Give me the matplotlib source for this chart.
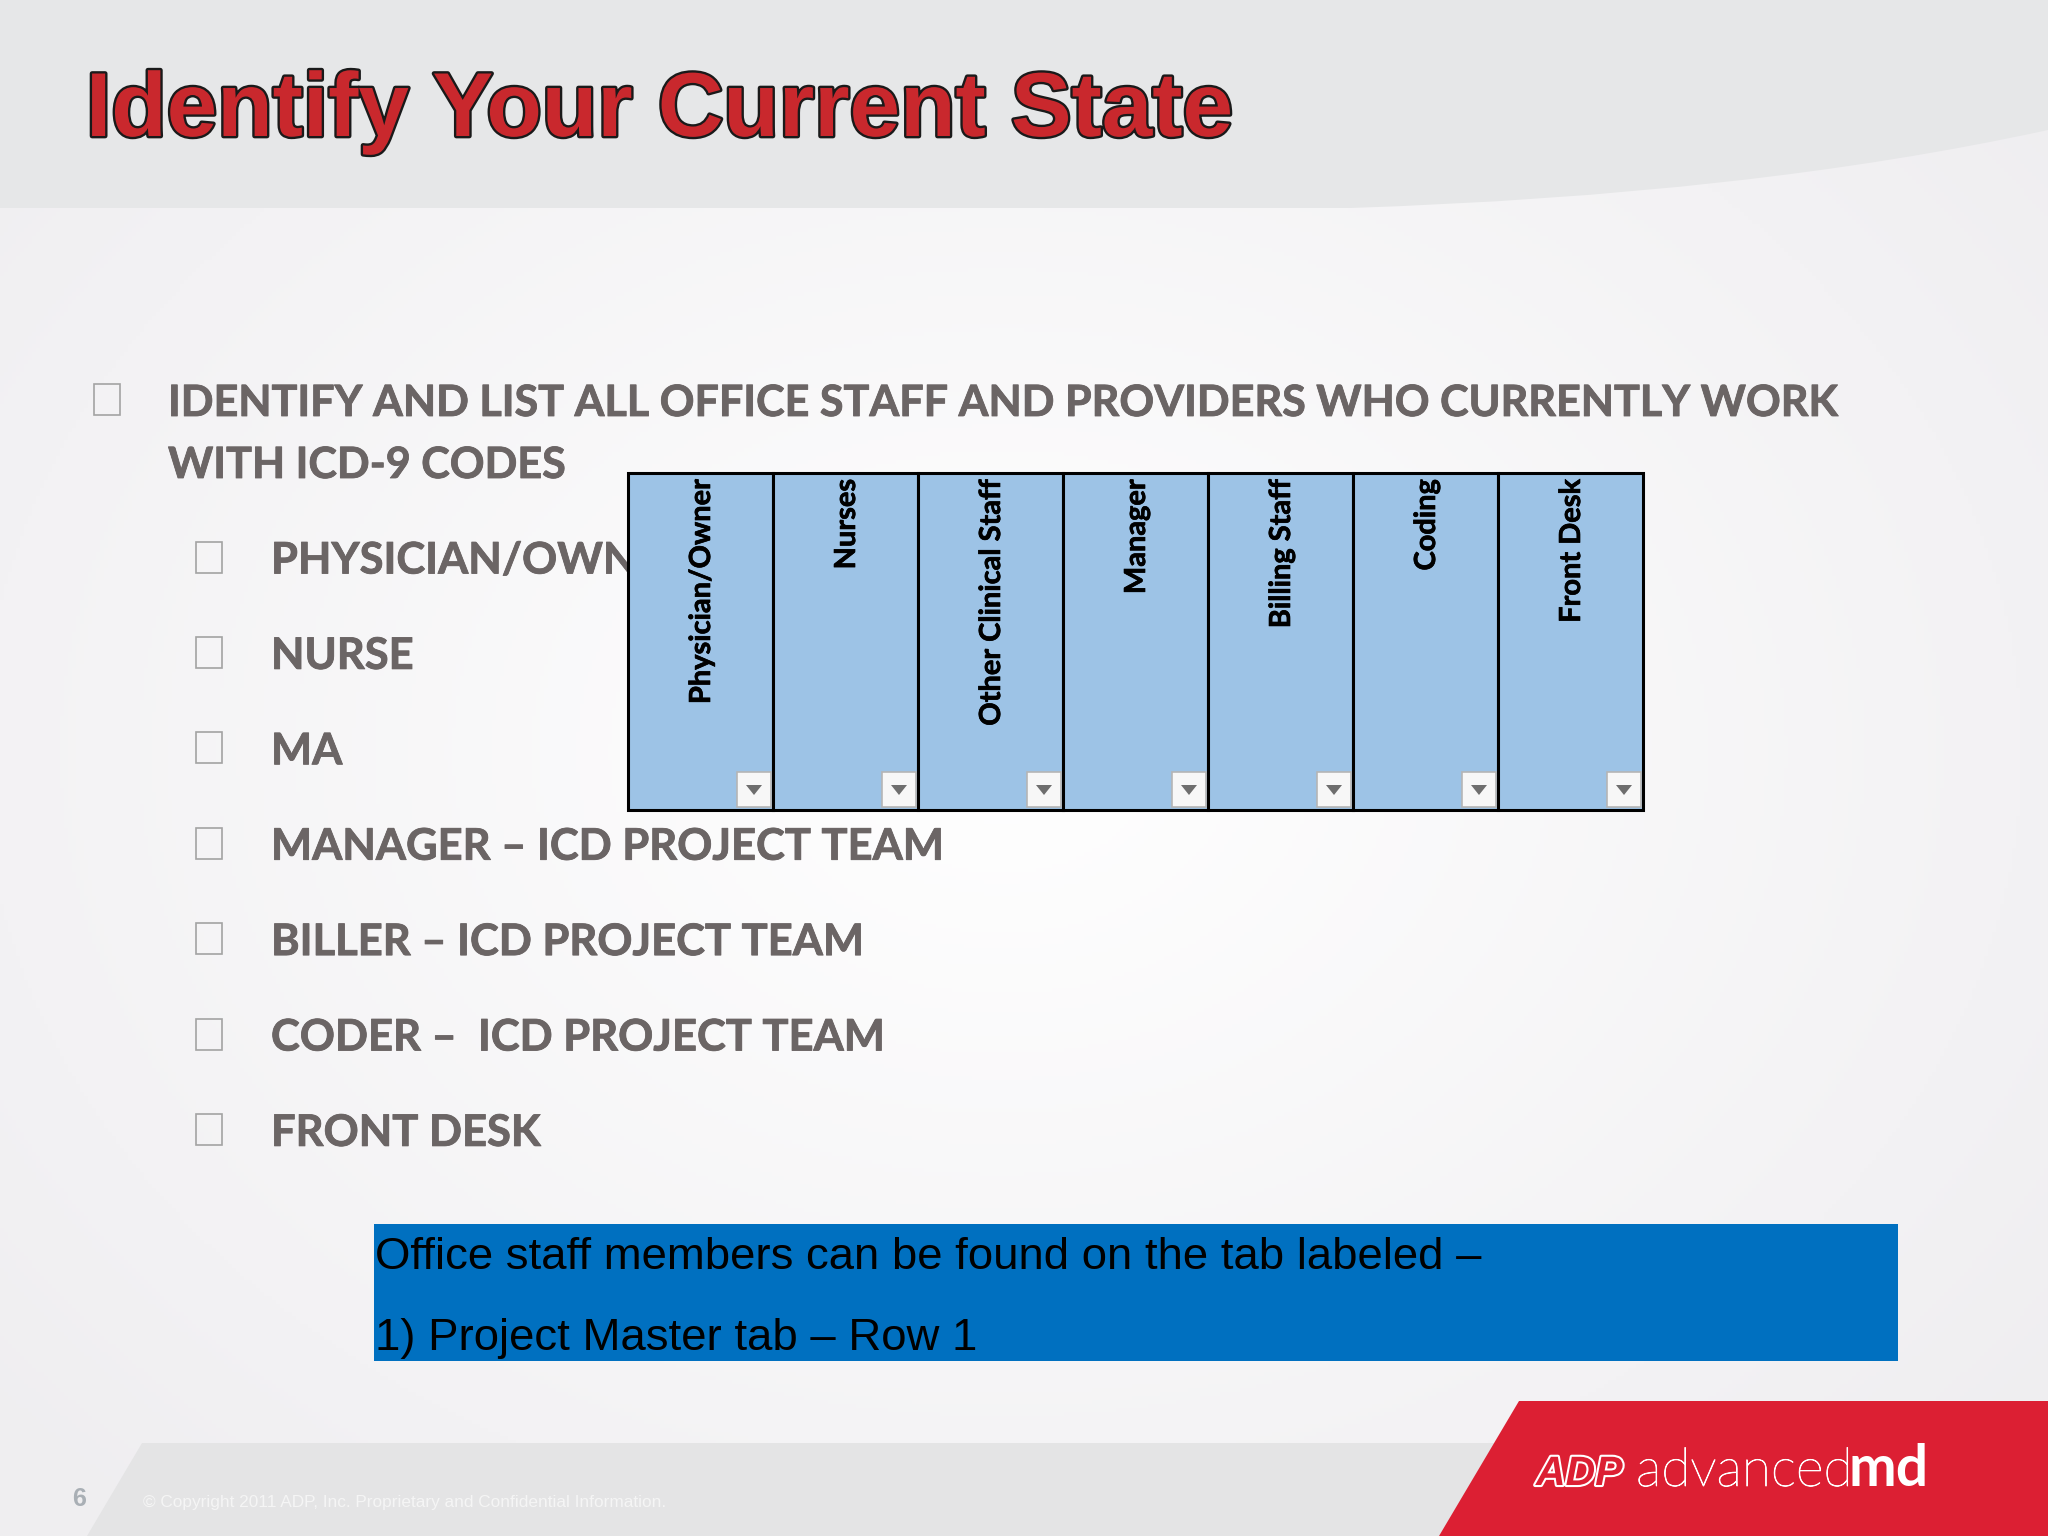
## Slide : identify your current state
import numpy as np
import matplotlib
matplotlib.use('Agg')
import matplotlib.pyplot as plt
import matplotlib.patheffects as pe
from matplotlib.patches import Rectangle, Polygon, PathPatch
from matplotlib.path import Path

title = "Identify Your Current State"
intro_lines = ["IDENTIFY AND LIST ALL OFFICE STAFF AND PROVIDERS WHO CURRENTLY WORK",
               "WITH ICD-9 CODES"]
items = ["PHYSICIAN/OWNER", "NURSE", "MA", "MANAGER \u2013 ICD PROJECT TEAM",
         "BILLER \u2013 ICD PROJECT TEAM", "CODER \u2013  ICD PROJECT TEAM", "FRONT DESK"]
columns = ["Physician/Owner", "Nurses", "Other Clinical Staff", "Manager",
           "Billing Staff", "Coding", "Front Desk"]
note_lines = ["Office staff members can be found on the tab labeled \u2013",
              "1) Project Master tab \u2013 Row 1"]
copyright_text = "\u00a9 Copyright 2011 ADP, Inc. Proprietary and Confidential Information."
page = "6"

def px(s):
    return s*72/100

fig = plt.figure(figsize=(20.48,15.36), dpi=100)
ax = fig.add_axes([0,0,1,1])
ax.set_xlim(0,2048)
ax.set_ylim(1536,0)
ax.axis('off')

# fond degrade
yy, xx = np.mgrid[0:1536:4, 0:2048:4]
r = np.sqrt(((xx-1000)/1300)**2 + ((yy-750)/1000)**2)
r = np.clip(r,0,1)
bg = np.dstack([1-0.06*r, 1-0.065*r, 1-0.055*r])
ax.imshow(bg, extent=[0,2048,1536,0], aspect='auto', zorder=0)

# bandeau du haut
verts = [(0,0),(2048,0),(2048,130),(1750,195),(1350,208),(0,208),(0,0)]
codes = [Path.MOVETO,Path.LINETO,Path.LINETO,Path.CURVE3,Path.CURVE3,Path.LINETO,Path.CLOSEPOLY]
ax.add_patch(PathPatch(Path(verts,codes), fc='#e6e7e8', ec='none', zorder=1))

# bandeau du bas
ax.add_patch(Polygon([(142,1443),(1600,1443),(1600,1536),(87,1536)], fc='#e4e4e5', ec='none', zorder=1))
ax.add_patch(Polygon([(1519,1401),(2048,1401),(2048,1536),(1439,1536)], fc='#dc1f33', ec='none', zorder=2))

ax.text(86,136,title,family='Liberation Sans',weight='bold',fontsize=px(90.8),color='#c9282d',
        va='baseline',zorder=3,
        path_effects=[pe.withStroke(linewidth=3.4,foreground='#1a1a1a')])

def puce(x,y):
    ax.add_patch(Rectangle((x,y),26,31,fc='none',ec='#a3a3a3',lw=1.2,zorder=3))

txt = '#6b6565'
gras = [pe.withStroke(linewidth=0.6,foreground=txt)]
for i,l in enumerate(intro_lines):
    ax.text(168,416+62*i,l,family='Lato',weight='bold',fontsize=px(43.1),color=txt,va='baseline',zorder=3,path_effects=gras)
puce(94,384)
for i,l in enumerate(items):
    y = 573.5+95.4*i
    ax.text(271,y,l,family='Lato',weight='bold',fontsize=px(43.5),color=txt,va='baseline',zorder=3,path_effects=gras)
    puce(196,y-32)

# tableau
x0, y0, w, h = 628, 473, 145, 337
for i,c in enumerate(columns):
    x = x0+w*i
    ax.add_patch(Rectangle((x,y0),w,h,fc='#9dc3e6',ec='black',lw=2.2,zorder=4))
    ax.text(x+w/2+1.5,y0+6,c,family='Lato',weight='bold',fontsize=px(29),color='black',rotation=90,
            ha='center',va='top',zorder=5,path_effects=[pe.withStroke(linewidth=0.5,foreground='black')])
    ax.add_patch(Rectangle((x+109,y0+299),34,35,fc='#f7f7f7',ec='#b5b5b5',lw=1.2,zorder=5))
    ax.add_patch(Polygon([(x+118,y0+312),(x+134,y0+312),(x+126,y0+322)],fc='#6e6e6e',ec='none',zorder=6))

# encadre bleu
ax.add_patch(Rectangle((374,1224),1524,137,fc='#0070c0',ec='none',zorder=3))
for i,l in enumerate(note_lines):
    ax.text(375,1269+81*i,l,family='Liberation Sans',fontsize=px(45.5),color='black',va='baseline',zorder=4)

# pied de page
ax.text(72,1506,page,family='Liberation Sans',weight='bold',fontsize=px(25),color='#a9afb5',va='baseline',zorder=3)
ax.text(143,1507,copyright_text,family='Liberation Sans',fontsize=px(17.2),color='#f5f5f5',va='baseline',zorder=3)
ax.text(1536,1485,"ADP",family='Liberation Sans',weight='bold',style='italic',fontsize=px(41),color='#dc1f33',
        va='baseline',zorder=3,path_effects=[pe.withStroke(linewidth=3,foreground='white')])
ax.text(1636,1486,"advanced",family='Lato',weight='light',fontsize=px(53.5),color='white',va='baseline',zorder=3,
        path_effects=[pe.withStroke(linewidth=0.6,foreground='white')])
ax.text(1848,1486,"md",family='Lato',weight='bold',fontsize=px(57),color='white',va='baseline',zorder=3)

fig.savefig('out.png', dpi=100)
